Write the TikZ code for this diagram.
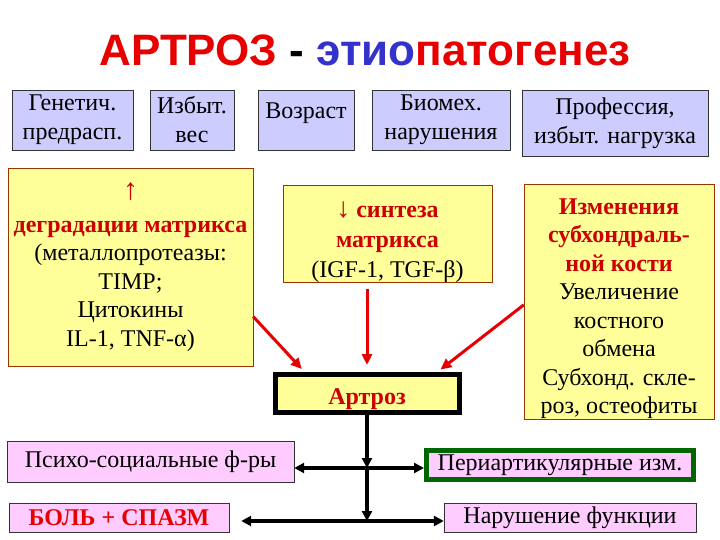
\documentclass[tikz,border=0pt]{standalone}
\usepackage{fontspec}
\setmainfont{Liberation Serif}
\newfontfamily\titlefont{Liberation Sans}
\usetikzlibrary{arrows.meta,positioning}
\definecolor{factor}{HTML}{CCCCFF}
\definecolor{mech}{HTML}{FFFF99}
\definecolor{outcome}{HTML}{FFCCFF}
\definecolor{hot}{HTML}{E80000}
\definecolor{darkhot}{HTML}{CC0000}
\definecolor{cool}{HTML}{3333CC}
\definecolor{frame}{HTML}{993300}
\definecolor{perigreen}{HTML}{006600}
\newcommand{\redbf}[1]{\textcolor{darkhot}{\bfseries #1}}

\begin{document}
\begin{tikzpicture}[x=1pt,y=-1pt,
  factorbox/.style={draw=black!80,fill=factor,inner sep=0pt,align=center,
    font=\fontsize{24}{29}\selectfont},
  mechbox/.style={draw=frame,fill=mech,inner sep=0pt,align=center,
    font=\fontsize{24}{28.5}\selectfont},
  outbox/.style={draw=black!80,fill=outcome,inner sep=0pt,align=center,
    font=\fontsize{24}{28}\selectfont},
  redarrow/.style={hot,line width=3pt,-{Triangle[length=11pt,width=10pt]}},
  blkarrow/.style={black,line width=3.5pt,-{Triangle[length=10pt,width=10pt]}},
  biarrow/.style={black,line width=3.5pt,{Triangle[length=10pt,width=10pt]}-{Triangle[length=10pt,width=10pt]}}]
  \fill[white] (0,0) rectangle (720,540);
  \useasboundingbox (0,0) rectangle (720,540);
  % title
  \node[font=\titlefont\bfseries\fontsize{44}{50}\selectfont] (title) at (365,50)
    {\textcolor{hot}{АРТРОЗ} - \textcolor{cool}{этио}\textcolor{hot}{патогенез}};
  % risk factors
  \node[factorbox,minimum width=121pt,minimum height=60pt] (gen) at (72.5,120) {Генетич.\\предрасп.};
  \node[factorbox,minimum width=84pt,minimum height=60pt] (ves) at (192,120) {Избыт.\\вес};
  \node[factorbox,minimum width=96pt,minimum height=60pt] (age) at (306,120) {\rule{0pt}{26pt}Возраст\\\mbox{}};
  \node[factorbox,minimum width=138pt,minimum height=60pt] (bio) at (441,120) {Биомех.\\нарушения};
  \node[factorbox,minimum width=186pt,minimum height=66pt] (prof) at (615,123) {Профессия,\\избыт. нагрузка};
  % mechanisms
  \node[mechbox,minimum width=245pt,minimum height=198pt] (degr) at (130.5,267)
    {\textcolor{darkhot}{\fontsize{30}{30}\selectfont ↑}\\[4pt]\redbf{деградации матрикса}\\(металлопротеазы:\\TIMP;\\Цитокины\\IL-1, TNF-α)};
  \node[mechbox,minimum width=209pt,minimum height=96pt,font=\fontsize{24}{30}\selectfont] (synth) at (387.5,234)
    {\rule{0pt}{32pt}\redbf{\fontsize{28}{30}\selectfont↓}\redbf{ синтеза}\\\redbf{матрикса}\\(IGF-1, TGF-β)};
  \node[mechbox,minimum width=190pt,minimum height=233pt] (bone) at (619,301.5)
    {\rule{0pt}{30pt}\redbf{Изменения}\\\redbf{субхондраль-}\\\redbf{ной кости}\\Увеличение\\костного\\обмена\\Субхонд. скле-\\роз, остеофиты};
  \node[mechbox,draw=black,line width=5pt,minimum width=184pt,minimum height=38pt,
    text height=26pt,text depth=5pt] (artr) at (367,393.5) {\redbf{Артроз}};
  \coordinate (j1) at (367,468);
  \coordinate (j2) at (367,521);
  % consequences
  \node[outbox,minimum width=287pt,minimum height=41pt] (psy) at (150.5,461.5) {Психо-социальные ф-ры};
  \node[outbox,draw=perigreen,line width=5pt,minimum width=267pt,minimum height=29pt] (peri) at (560,465) {Периартикулярные изм.};
  \node[outbox,minimum width=220pt,minimum height=29pt] (pain) at (119,517.5) {\textcolor{hot}{\bfseries БОЛЬ + СПАЗМ}};
  \node[outbox,minimum width=252pt,minimum height=29pt] (func) at (570,517.5) {Нарушение функции};
  % connectors
  \draw[redarrow,shorten <=6pt,shorten >=7pt] (synth.south -| artr.north) -- (artr.north);
  \draw[redarrow,shorten >=4pt] (degr.-22) -- (artr.161);
  \draw[redarrow,shorten >=4pt] (bone.182) -- (artr.17);
  \draw[blkarrow] (artr.south) -- (j1);
  \draw[blkarrow] (j1) -- (j2);
  \draw[biarrow] (psy.east |- j1) -- (peri.west |- j1);
  \draw[biarrow,shorten <=12pt] (pain.east |- j2) -- (func.west |- j2);
\end{tikzpicture}
\end{document}
